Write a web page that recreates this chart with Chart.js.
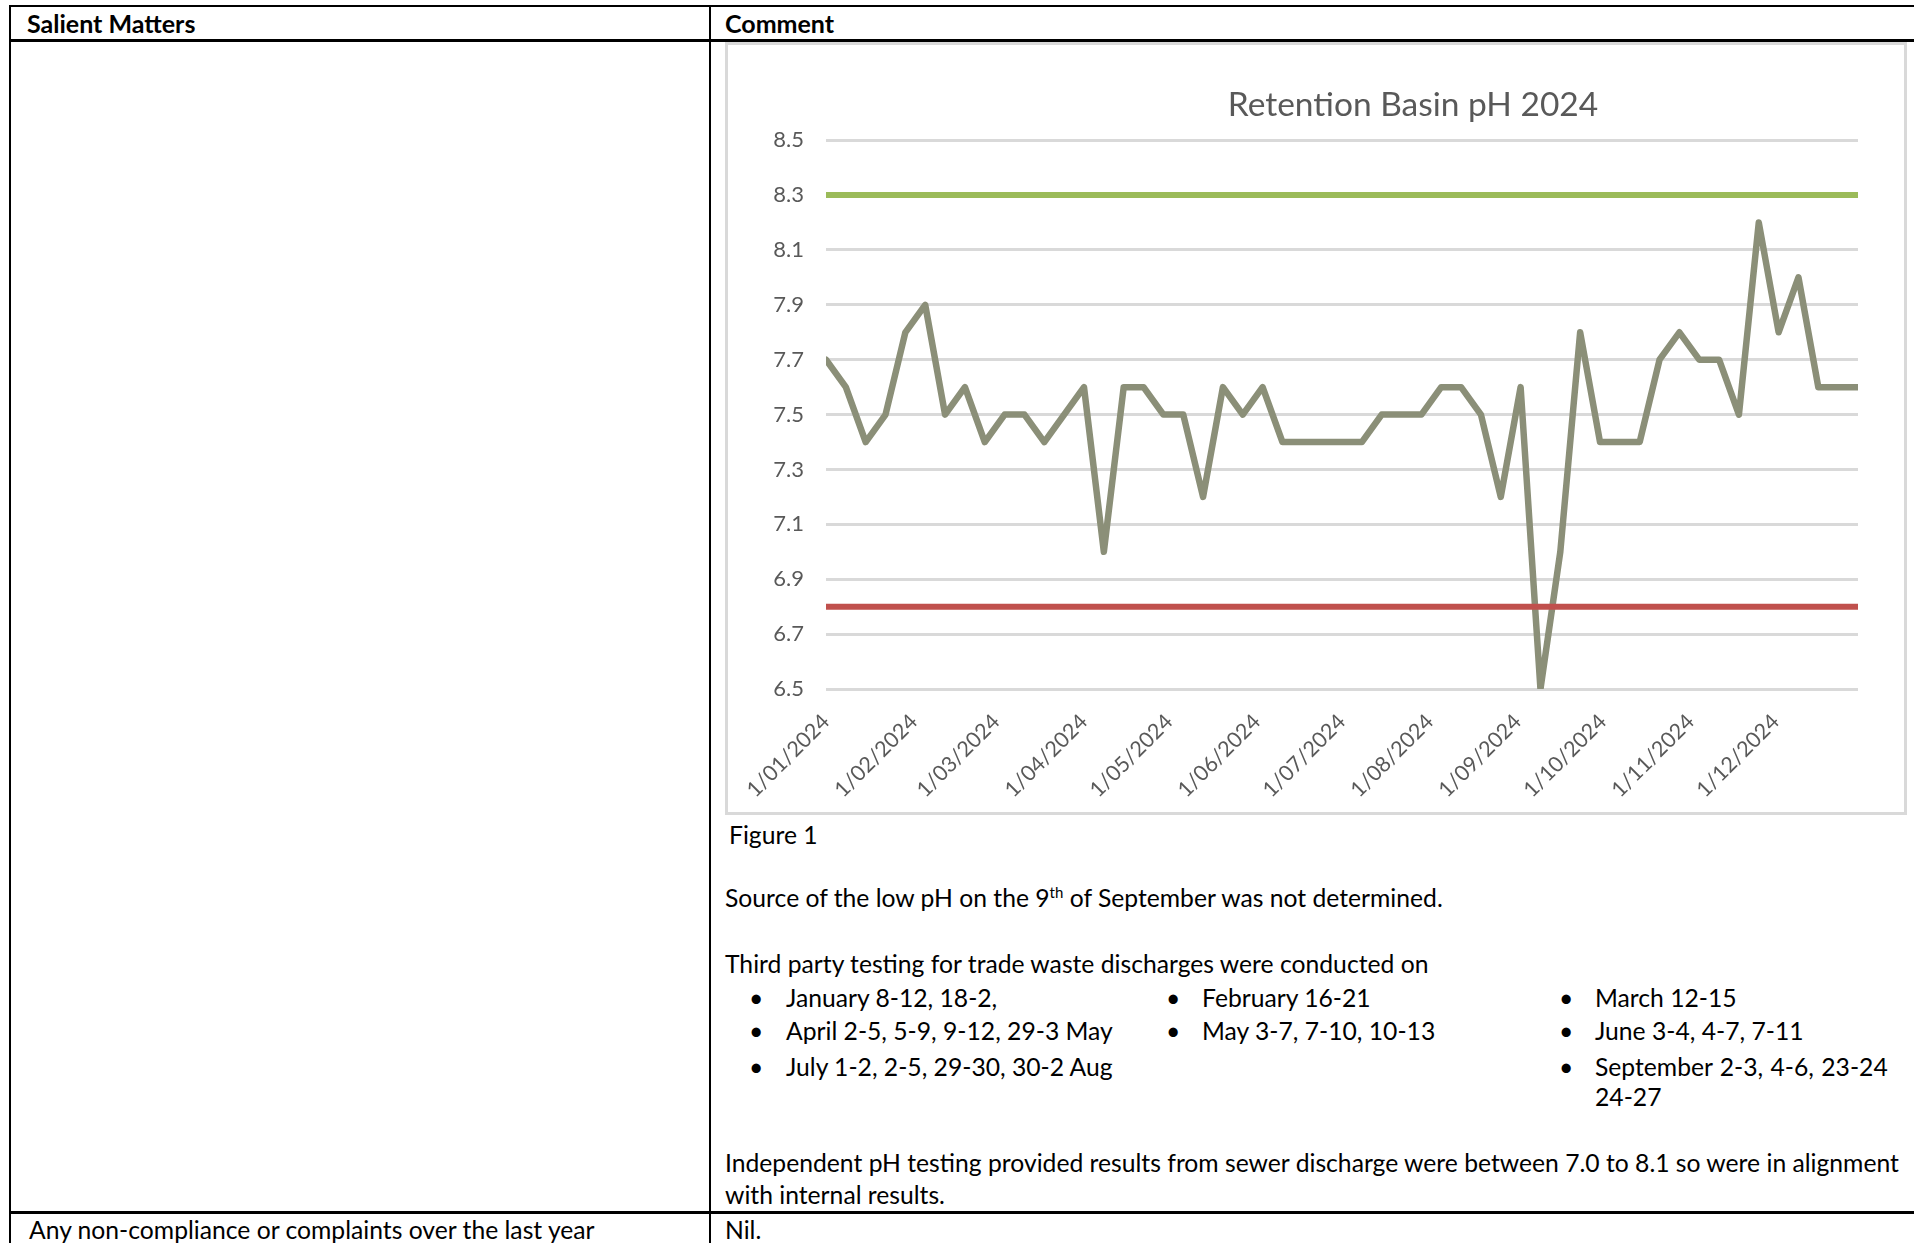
<!DOCTYPE html>
<html>
<head>
<meta charset="utf-8">
<title>Retention Basin pH 2024</title>
<script src="https://cdn.jsdelivr.net/npm/chart.js@4.4.1/dist/chart.umd.min.js"></script>
<style>
  html, body { margin: 0; padding: 0; background: #fff; }
  body { width: 1914px; height: 1243px; overflow: hidden; position: relative; font-family: Lato, 'Noto Sans', sans-serif; color: #000; }
  .rule { position: absolute; background: #000; }
  .t { position: absolute; white-space: nowrap; font-size: 24.7px; line-height: 30px; }
  .b { font-weight: bold; font-size: 25px; }
  sup { font-size: 15px; line-height: 0; vertical-align: 9px; }
  #chartBox { position: absolute; left: 725px; top: 42px; width: 1182px; height: 773px; border: 3px solid #d9d9d9; box-sizing: border-box; overflow: hidden; }
  #chartBox canvas { position: absolute; left: 0; top: 0; }
</style>
</head>
<body>
<!-- table rules -->
<div class="rule" style="left:9px; top:5px; width:1905px; height:2px;"></div>
<div class="rule" style="left:9px; top:5px; width:2px; height:1238px;"></div>
<div class="rule" style="left:709px; top:5px; width:2px; height:1238px;"></div>
<div class="rule" style="left:9px; top:39px; width:1905px; height:3px;"></div>
<div class="rule" style="left:9px; top:1211px; width:1905px; height:3px;"></div>

<div class="t b" style="left:27px; top:8px;">Salient Matters</div>
<div class="t b" style="left:725px; top:8px;">Comment</div>

<div id="chartBox"><canvas id="phChart" width="1370" height="767"></canvas></div>

<div class="t" style="left:729px; top:820px;">Figure 1</div>
<div class="t" style="left:725px; top:883px;">Source of the low pH on the 9<sup>th</sup> of September was not determined.</div>
<div class="t" style="left:725px; top:949px;">Third party testing for trade waste discharges were conducted on</div>

<div class="t" style="left:749px; top:983px;">•</div>
<div class="t" style="left:786px; top:983px;">January 8-12, 18-2,</div>
<div class="t" style="left:749px; top:1016px;">•</div>
<div class="t" style="left:786px; top:1016px;">April 2-5, 5-9, 9-12, 29-3 May</div>
<div class="t" style="left:749px; top:1052px;">•</div>
<div class="t" style="left:786px; top:1052px;">July 1-2, 2-5, 29-30, 30-2 Aug</div>

<div class="t" style="left:1166px; top:983px;">•</div>
<div class="t" style="left:1202px; top:983px;">February 16-21</div>
<div class="t" style="left:1166px; top:1016px;">•</div>
<div class="t" style="left:1202px; top:1016px;">May 3-7, 7-10, 10-13</div>

<div class="t" style="left:1559px; top:983px;">•</div>
<div class="t" style="left:1595px; top:983px;">March 12-15</div>
<div class="t" style="left:1559px; top:1016px;">•</div>
<div class="t" style="left:1595px; top:1016px;">June 3-4, 4-7, 7-11</div>
<div class="t" style="left:1559px; top:1052px;">•</div>
<div class="t" style="left:1595px; top:1052px; word-spacing:1px;">September 2-3, 4-6, 23-24</div>
<div class="t" style="left:1595px; top:1082px;">24-27</div>

<div class="t" style="left:725px; top:1148px;">Independent pH testing provided results from sewer discharge were between 7.0 to 8.1 so were in alignment</div>
<div class="t" style="left:725px; top:1180px;">with internal results.</div>

<div class="t" style="left:29px; top:1215px;">Any non-compliance or complaints over the last year</div>
<div class="t" style="left:725px; top:1215px;">Nil.</div>

<script>
// weekly sample dates (2024)
const sampleDates = [
    '2024-01-01', '2024-01-08', '2024-01-15', '2024-01-22', '2024-01-29',
    '2024-02-05', '2024-02-12', '2024-02-19', '2024-02-26',
    '2024-03-04', '2024-03-11', '2024-03-18', '2024-03-25',
    '2024-04-01', '2024-04-08', '2024-04-15', '2024-04-22', '2024-04-29',
    '2024-05-06', '2024-05-13', '2024-05-20', '2024-05-27',
    '2024-06-03', '2024-06-10', '2024-06-17', '2024-06-24',
    '2024-07-01', '2024-07-08', '2024-07-15', '2024-07-22', '2024-07-29',
    '2024-08-05', '2024-08-12', '2024-08-19', '2024-08-26',
    '2024-09-02', '2024-09-09', '2024-09-16', '2024-09-23', '2024-09-30',
    '2024-10-07', '2024-10-14', '2024-10-21', '2024-10-28',
    '2024-11-04', '2024-11-11', '2024-11-18', '2024-11-25',
    '2024-12-02', '2024-12-09', '2024-12-16', '2024-12-23', '2024-12-30'
];

const phValues = [
    7.7, 7.6, 7.4, 7.5, 7.8,
    7.9, 7.5, 7.6, 7.4,
    7.5, 7.5, 7.4, 7.5,
    7.6, 7.0, 7.6, 7.6, 7.5,
    7.5, 7.2, 7.6, 7.5,
    7.6, 7.4, 7.4, 7.4,
    7.4, 7.4, 7.5, 7.5, 7.5,
    7.6, 7.6, 7.5, 7.2,
    7.6, 6.5, 7.0, 7.8, 7.4,
    7.4, 7.4, 7.7, 7.8,
    7.7, 7.7, 7.5, 8.2,
    7.8, 8.0, 7.6, 7.6, 7.6
];

const upperLimit = 8.3;
const lowerLimit = 6.8;

const monthStarts = ['2024-01-01', '2024-02-01', '2024-03-01', '2024-04-01', '2024-05-01', '2024-06-01',
    '2024-07-01', '2024-08-01', '2024-09-01', '2024-10-01', '2024-11-01', '2024-12-01'];
const monthLabels = ['1/01/2024', '1/02/2024', '1/03/2024', '1/04/2024', '1/05/2024', '1/06/2024',
    '1/07/2024', '1/08/2024', '1/09/2024', '1/10/2024', '1/11/2024', '1/12/2024'];

const yTicks = { min: 6.5, max: 8.5, step: 0.2 };

function dayOf(iso) {
    return (Date.parse(iso) - Date.parse(sampleDates[0])) / 86400000;
}

const phPoints = sampleDates.map((d, i) => ({ x: dayOf(d), y: phValues[i] }));
const upperPoints = sampleDates.map(d => ({ x: dayOf(d), y: upperLimit }));
const lowerPoints = sampleDates.map(d => ({ x: dayOf(d), y: lowerLimit }));

Chart.defaults.font.family = 'Lato, "Noto Sans", sans-serif';
Chart.defaults.color = '#595959';

const ctx = document.getElementById('phChart').getContext('2d');
new Chart(ctx, {
    type: 'line',
    data: {
        datasets: [
            {
                label: 'Lower limit',
                data: lowerPoints,
                borderColor: '#c0504d',
                borderWidth: 6,
                borderCapStyle: 'round',
                pointRadius: 0
            },
            {
                label: 'Upper limit',
                data: upperPoints,
                borderColor: '#9bbb59',
                borderWidth: 6,
                borderCapStyle: 'round',
                pointRadius: 0
            },
            {
                label: 'pH',
                data: phPoints,
                borderColor: '#8b8f78',
                borderWidth: 6.5,
                borderJoinStyle: 'round',
                borderCapStyle: 'round',
                tension: 0,
                pointRadius: 0
            }
        ]
    },
    options: {
        responsive: false,
        animation: false,
        layout: { padding: 0 },
        plugins: {
            legend: { display: false },
            tooltip: { enabled: false },
            title: {
                display: true,
                text: 'Retention Basin pH 2024',
                color: '#595959',
                font: { size: 33.5, weight: 'normal' },
                padding: { top: 40, bottom: 15 }
            }
        },
        scales: {
            x: {
                type: 'linear',
                min: dayOf(sampleDates[0]),
                max: dayOf(sampleDates[sampleDates.length - 1]),
                afterBuildTicks: s => { s.ticks = monthStarts.map(d => ({ value: dayOf(d) })); },
                afterFit: s => { s.height = 123; },
                grid: { display: false, drawTicks: false },
                border: { display: false },
                ticks: {
                    autoSkip: false,
                    minRotation: 45,
                    maxRotation: 45,
                    padding: 20,
                    color: '#595959',
                    font: { size: 21.5 },
                    callback: (v, i) => monthLabels[i]
                }
            },
            y: {
                min: yTicks.min,
                max: yTicks.max,
                afterFit: s => { s.width = 98; },
                grid: { color: '#d9d9d9', lineWidth: 3, drawTicks: false },
                border: { display: false },
                ticks: {
                    stepSize: yTicks.step,
                    padding: 22,
                    color: '#595959',
                    font: { size: 22 },
                    callback: v => v.toFixed(1)
                }
            },
            yPad: {
                position: 'right',
                display: true,
                afterFit: s => { s.width = 240; },
                grid: { display: false, drawTicks: false },
                border: { display: false },
                ticks: { display: false }
            }
        }
    }
});
</script>
</body>
</html>
